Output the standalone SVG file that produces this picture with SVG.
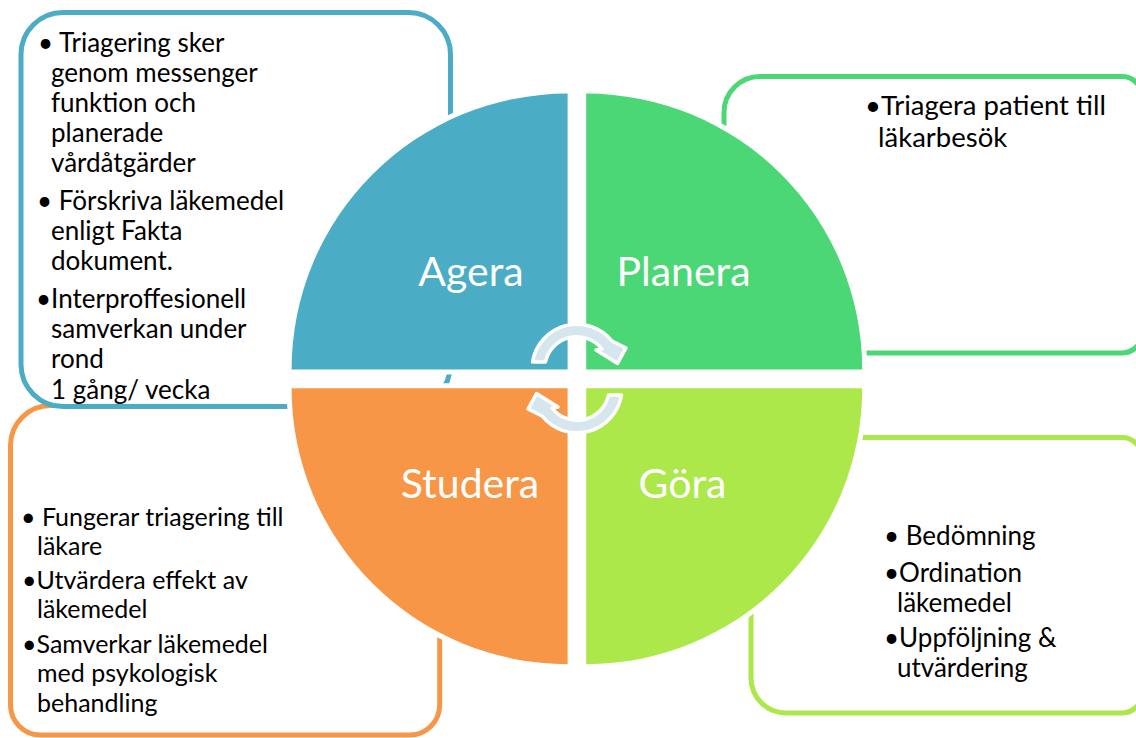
<svg xmlns="http://www.w3.org/2000/svg" width="1136" height="738" viewBox="0 0 1136 738">
  <style>
    .box { fill: #ffffff; stroke-width: 5; }
    .b-blue { stroke: #4BACC6; }
    .b-green { stroke: #4BD775; }
    .b-lime { stroke: #ADE84A; }
    .b-orange { stroke: #F79646; }
    .body { font-family: Lato, "Open Sans", "Liberation Sans", sans-serif; font-size: 26px; fill: #000000; }
    .sm { font-size: 25px; }
    .lg { font-size: 27.5px; }
    .quad { stroke: #ffffff; stroke-width: 10; paint-order: stroke; }
    .label { font-family: Lato, "Open Sans", "Liberation Sans", sans-serif; font-size: 41px; fill: #ffffff; text-anchor: middle; }
    .cyc { fill: #D6E6EE; stroke: #ffffff; stroke-width: 3.5; stroke-linejoin: round; }
  </style>
  <rect width="1136" height="738" fill="#ffffff"/>

  <!-- text boxes behind the wheel -->
  <g id="box-studera">
    <path class="box b-orange" d="M 50.5,405.5 H 399.7 A 40 40 0 0 1 439.7,445.5 V 705 A 30 30 0 0 1 409.7,735 H 40.5 A 30 30 0 0 1 10.5,705 V 445.5 A 40 40 0 0 1 50.5,405.5 Z"/>
    <text class="body sm" x="21" y="526">• Fungerar triagering till</text>
    <text class="body sm" x="37" y="555">läkare</text>
    <text class="body sm" x="22" y="589">•Utvärdera effekt av</text>
    <text class="body sm" x="37" y="618">läkemedel</text>
    <text class="body sm" x="22" y="653">•Samverkar läkemedel</text>
    <text class="body sm" x="37" y="682">med psykologisk</text>
    <text class="body sm" x="37" y="712">behandling</text>
  </g>

  <g id="box-gora">
    <path class="box b-lime" d="M 786,437.5 H 1122 A 20 20 0 0 1 1142,457.5 V 693 A 20 20 0 0 1 1122,713 H 786 A 35 35 0 0 1 751,678 V 472.5 A 35 35 0 0 1 786,437.5 Z"/>
    <text class="body" x="884" y="545">• Bedömning</text>
    <text class="body" x="884" y="582">•Ordination</text>
    <text class="body" x="897" y="612">läkemedel</text>
    <text class="body" x="884" y="647">•Uppföljning &amp;</text>
    <text class="body" x="897" y="677">utvärdering</text>
  </g>

  <g id="box-planera">
    <path class="box b-green" d="M 760,76.5 H 1122 A 20 20 0 0 1 1142,96.5 V 333 A 20 20 0 0 1 1122,353 H 760 A 36 36 0 0 1 724,317 V 112.5 A 36 36 0 0 1 760,76.5 Z"/>
    <text class="body lg" x="865" y="115">•Triagera patient till</text>
    <text class="body lg" x="878" y="147">läkarbesök</text>
  </g>

  <g id="box-agera">
    <rect class="box b-blue" x="21" y="12.5" width="429.5" height="394" rx="42"/>
    <text class="body" x="38" y="52">• Triagering sker</text>
    <text class="body" x="51" y="82">genom messenger</text>
    <text class="body" x="51" y="112">funktion och</text>
    <text class="body" x="51" y="142">planerade</text>
    <text class="body" x="51" y="172">vårdåtgärder</text>
    <text class="body" x="37" y="210">• Förskriva läkemedel</text>
    <text class="body" x="51" y="240">enligt Fakta</text>
    <text class="body" x="51" y="270">dokument.</text>
    <text class="body" x="36" y="308">•Interproffesionell</text>
    <text class="body" x="51" y="338">samverkan under</text>
    <text class="body" x="51" y="368">rond</text>
    <text class="body" x="51" y="399">1 gång/ vecka</text>
  </g>

  <!-- four quarters of the wheel -->
  <g id="quad-agera">
    <path class="quad" fill="#4BACC6" d="M 567.6,369.6 H 291.6 A 276 276 0 0 1 567.6,93.6 Z"/>
    <text class="label" x="471" y="285.5">Agera</text>
  </g>
  <g id="quad-planera">
    <path class="quad" fill="#4BD775" d="M 586.2,369.6 V 93.6 A 276 276 0 0 1 862.2,369.6 Z"/>
    <text class="label" x="683.5" y="285.5">Planera</text>
  </g>
  <g id="quad-studera">
    <path class="quad" fill="#F79646" d="M 567.6,388.2 V 664.2 A 276 276 0 0 1 291.6,388.2 Z"/>
    <text class="label" x="470" y="498">Studera</text>
  </g>
  <g id="quad-gora">
    <path class="quad" fill="#ADE84A" d="M 586.2,388.2 H 862.2 A 276 276 0 0 1 586.2,664.2 Z"/>
    <text class="label" x="682.5" y="498">Göra</text>
  </g>

  <!-- cycle arrows in the hub -->
  <g id="connectors">
    <path id="cycle-upper" class="cyc" d="M 532.5,362 A 45 45 0 0 1 612,341 L 626,348 L 617.5,363.5 L 596,350 L 602,349 A 32 32 0 0 0 545.5,362 Z"/>
    <path id="cycle-lower" class="cyc" transform="rotate(180 577 378.5)" d="M 532.5,362 A 45 45 0 0 1 612,341 L 626,348 L 617.5,363.5 L 596,350 L 602,349 A 32 32 0 0 0 545.5,362 Z"/>
  </g>
</svg>
